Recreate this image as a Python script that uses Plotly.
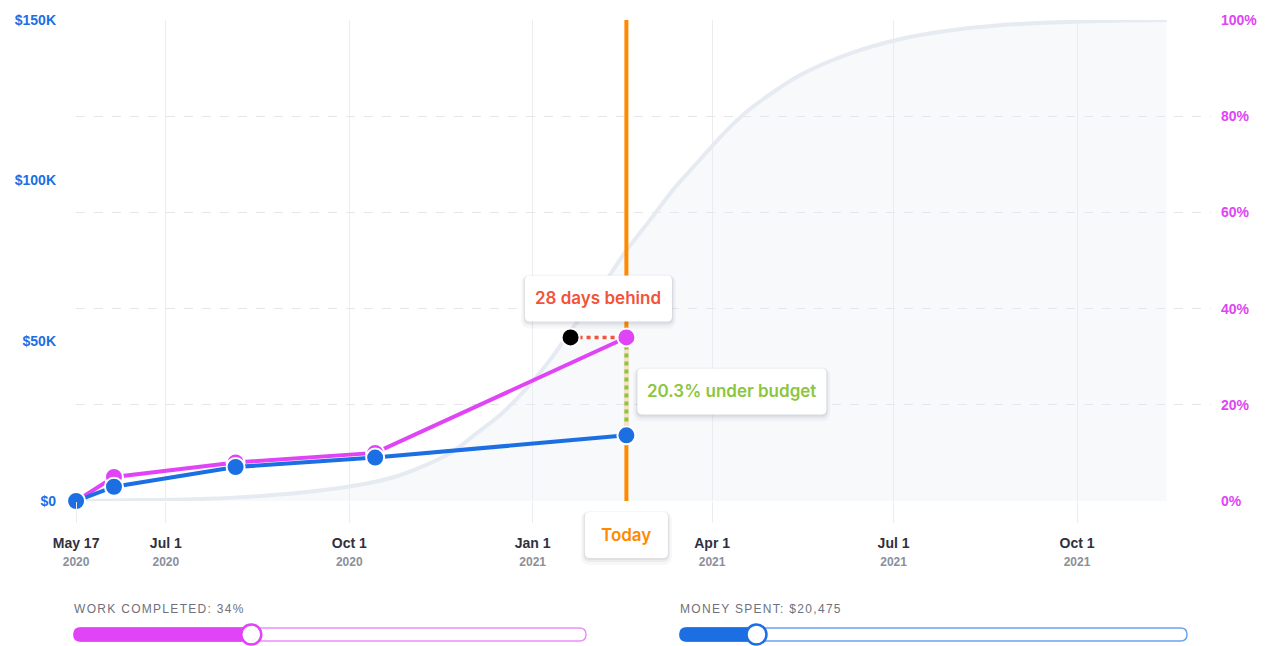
import datetime as dt
import plotly.graph_objects as go

# ---- actual progress at each check-in ----
check_dates = ["2020-05-17", "2020-06-05", "2020-08-05", "2020-10-14", "2021-02-17"]
work_completed_pct = [0, 5, 8, 10, 34]
money_spent = [0, 4450, 10600, 13550, 20475]

# ---- planned (baseline) progress curve ----
plan_dates = ["2020-05-17", "2020-06-23", "2020-07-18", "2020-08-12", "2020-09-06",
              "2020-10-01", "2020-10-14", "2020-10-26", "2020-11-08", "2020-11-21",
              "2020-12-03", "2020-12-16", "2020-12-28", "2021-01-10", "2021-01-22",
              "2021-02-04", "2021-02-16", "2021-03-01", "2021-03-13", "2021-03-26",
              "2021-04-07", "2021-04-20", "2021-05-15", "2021-06-09", "2021-07-04",
              "2021-07-29", "2021-08-23", "2021-10-03", "2021-11-15"]
plan_pct = [0, 0.2, 0.4, 0.9, 1.7,
            3.0, 4.0, 5.3, 7.4, 10.0,
            13.8, 18.0, 23.0, 29.5, 36.5,
            44.0, 51.5, 58.5, 65.0, 71.0,
            76.5, 81.5, 88.5, 93.0, 96.0,
            97.8, 98.9, 99.7, 100]

today = "2021-02-17"
plan_date_for_current_work = "2021-01-20"   # when the plan reached the current % complete
budget_note = "20.3% under budget"

# ---- axes ----
x_range = ["2020-05-16 23:00", "2021-12-07 05:00"]
x_tick_dates = ["2020-05-17", "2020-07-01", "2020-10-01", "2021-01-01",
                "2021-04-01", "2021-07-01", "2021-10-01"]
x_tick_day = ["May 17", "Jul 1", "Oct 1", "Jan 1", "Apr 1", "Jul 1", "Oct 1"]
x_tick_year = ["2020", "2020", "2020", "2021", "2021", "2021", "2021"]

money_range = [0, 150000]
money_ticks = [0, 50000, 100000, 150000]
money_tick_labels = ["$0", "$50K", "$100K", "$150K"]

pct_range = [0, 100]
pct_ticks = [0, 20, 40, 60, 80, 100]
pct_tick_labels = ["0%", "20%", "40%", "60%", "80%", "100%"]

# ---- sliders under the chart ----
work_slider_max = 100
money_slider_max = 150000

MAGENTA = "#e044f6"
MAGENTA_LIGHT = "#ec8ef9"
BLUE = "#1b6fe2"
BLUE_LIGHT = "#6aa3ee"
ORANGE = "#ff8a00"
RED = "#f2533a"
GREEN = "#8cc63e"
PLAN_LINE = "#e6ebf2"
GRID = "#ececef"
TEXT_FONT = "Inter"
AXIS_FONT = "Liberation Sans"

W, H = 1270, 646
M_L, M_R, M_T, M_B = 76, 59, 17, 145


def d(s):
    return dt.date.fromisoformat(s)


def rrect(x0, y0, x1, y1, r):
    """Rounded rectangle path in pixel offsets (y grows upward)."""
    return (f"M{x0 + r},{y0} L{x1 - r},{y0} Q{x1},{y0} {x1},{y0 + r} "
            f"L{x1},{y1 - r} Q{x1},{y1} {x1 - r},{y1} L{x0 + r},{y1} "
            f"Q{x0},{y1} {x0},{y1 - r} L{x0},{y0 + r} Q{x0},{y0} {x0 + r},{y0} Z")


def card(xref, xanchor, yref, yanchor, x0, y0, x1, y1):
    """White label card with a soft drop shadow."""
    out = []
    for grow, drop, alpha in [(4, 3, 0.035), (2, 2, 0.05), (1, 1, 0.06)]:
        out.append(dict(type="path", xref=xref, yref=yref, xsizemode="pixel", ysizemode="pixel",
                        xanchor=xanchor, yanchor=yanchor, layer="above",
                        path=rrect(x0 - grow, y0 - grow - drop, x1 + grow, y1 + grow - drop, 5 + grow),
                        fillcolor=f"rgba(30,40,70,{alpha})", line=dict(width=0)))
    out.append(dict(type="path", xref=xref, yref=yref, xsizemode="pixel", ysizemode="pixel",
                    xanchor=xanchor, yanchor=yanchor, layer="above",
                    path=rrect(x0, y0, x1, y1, 5), fillcolor="white", line=dict(width=0)))
    return out


fig = go.Figure()

# planned curve (percent axis)
fig.add_trace(go.Scatter(
    x=plan_dates, y=plan_pct, yaxis="y", mode="lines",
    line=dict(color=PLAN_LINE, width=4, shape="spline", smoothing=0.8),
    fill="tozeroy", fillcolor="rgba(228,234,242,0.30)", hoverinfo="skip", showlegend=False))

# today marker line
fig.add_trace(go.Scatter(
    x=[today, today], y=pct_range, yaxis="y", mode="lines",
    line=dict(color=ORANGE, width=4), hoverinfo="skip", showlegend=False))

# gap between work completed and money spent on today's line
blue_now_pct = money_spent[-1] / money_range[1] * pct_range[1]
fig.add_trace(go.Scatter(
    x=[today, today], y=[work_completed_pct[-1], blue_now_pct], yaxis="y", mode="lines",
    line=dict(color="#f3e2cc", width=5), hoverinfo="skip", showlegend=False))
fig.add_trace(go.Scatter(
    x=[today, today], y=[work_completed_pct[-1], blue_now_pct], yaxis="y", mode="lines",
    line=dict(color=GREEN, width=4, dash="4px,4px"), hoverinfo="skip", showlegend=False))

# schedule gap: plan date vs today at the current % complete
fig.add_trace(go.Scatter(
    x=[plan_date_for_current_work, today], y=[work_completed_pct[-1]] * 2, yaxis="y",
    mode="lines", line=dict(color=RED, width=3.5, dash="4px,4px"),
    hoverinfo="skip", showlegend=False))

# work completed (percent axis)
fig.add_trace(go.Scatter(
    x=check_dates, y=work_completed_pct, yaxis="y", mode="lines+markers",
    line=dict(color=MAGENTA, width=4),
    marker=dict(size=18, color=MAGENTA, line=dict(color="white", width=2)),
    cliponaxis=False, name="Work completed", showlegend=False))

# planned point matching the current % complete
fig.add_trace(go.Scatter(
    x=[plan_date_for_current_work], y=[work_completed_pct[-1]], yaxis="y", mode="markers",
    marker=dict(size=18, color="black", line=dict(color="white", width=2)),
    cliponaxis=False, showlegend=False))

# money spent (money axis)
fig.add_trace(go.Scatter(
    x=check_dates, y=money_spent, yaxis="y2", mode="lines+markers",
    line=dict(color=BLUE, width=4),
    marker=dict(size=18, color=BLUE, line=dict(color="white", width=2)),
    cliponaxis=False, name="Money spent", showlegend=False))

shapes = []
annotations = []

# "days behind" card centred over the schedule gap
t_today = d(today)
t_plan = d(plan_date_for_current_work)
days_behind = (t_today - t_plan).days
gap_mid = (t_plan + (t_today - t_plan) / 2).isoformat()
shapes += card("x", gap_mid, "y", work_completed_pct[-1], -73.5, 16, 73.5, 62)
annotations.append(dict(x=gap_mid, y=work_completed_pct[-1], xref="x", yref="y",
                        xanchor="center", yanchor="middle",
                        text=f"{days_behind} days behind", showarrow=False, yshift=39,
                        font=dict(family=TEXT_FONT, size=17, color=RED, weight=600)))

# budget card to the right of today's line
shapes += card("x", today, "y", work_completed_pct[-1], 11, -77, 200, -31)
annotations.append(dict(x=today, y=work_completed_pct[-1], xref="x", yref="y",
                        xanchor="center", yanchor="middle",
                        text=budget_note, showarrow=False, xshift=105.5, yshift=-54,
                        font=dict(family=TEXT_FONT, size=17, color=GREEN, weight=600)))

# "Today" card under the axis
shapes += card("x", today, "paper", 0, -41.5, -57, 41.5, -11)
annotations.append(dict(x=today, y=0, xref="x", yref="paper", text="Today",
                        xanchor="center", yanchor="middle",
                        showarrow=False, yshift=-34,
                        font=dict(family=TEXT_FONT, size=17, color=ORANGE, weight=600)))


def slider(left_px, right_px, frac, color, light, label):
    ox, oy = M_L, H - M_B          # plot-area origin in page pixels
    x0, x1 = left_px - ox, right_px - ox
    cy = oy - 634.5
    hh = 6.5
    kr = 10
    kx = x0 + kr + frac * (x1 - x0 - 2 * kr)
    base = dict(xref="paper", yref="paper", xanchor=0, yanchor=0,
                xsizemode="pixel", ysizemode="pixel", layer="above")
    out = [
        dict(type="path", path=rrect(x0, cy - hh, x1, cy + hh, hh),
             fillcolor="white", line=dict(color=light, width=1.5), **base),
        dict(type="path", path=rrect(x0, cy - hh, kx, cy + hh, hh),
             fillcolor=color, line=dict(color=color, width=1.5), **base),
        dict(type="circle", x0=kx - kr, x1=kx + kr, y0=cy - kr, y1=cy + kr,
             fillcolor="white", line=dict(color=color, width=2.5), **base),
    ]
    ann = dict(x=0, y=0, xref="paper", yref="paper", xanchor="left", yanchor="middle",
               xshift=x0 - 2, yshift=oy - 609, showarrow=False,
               text=f"<span style='letter-spacing:1.3px'>{label}</span>",
               font=dict(family="Liberation Sans", size=12, color="#6e717c"))
    return out, ann


s, a = slider(74, 586, work_completed_pct[-1] / work_slider_max, MAGENTA, MAGENTA_LIGHT,
              f"WORK COMPLETED: {work_completed_pct[-1]}%")
shapes += s
annotations.append(a)
s, a = slider(680, 1187, money_spent[-1] / money_slider_max, BLUE, BLUE_LIGHT,
              f"MONEY SPENT: ${money_spent[-1]:,}")
shapes += s
annotations.append(a)

x_tick_text = [f"{dd}<br><span style='font-size:12px;color:#8b8f9a'>{yy}</span>"
               for dd, yy in zip(x_tick_day, x_tick_year)]

fig.update_layout(
    width=W, height=H, autosize=False,
    margin=dict(l=M_L, r=M_R, t=M_T, b=M_B),
    paper_bgcolor="white", plot_bgcolor="white",
    showlegend=False,
    xaxis=dict(type="date", range=x_range, tickmode="array", tickvals=x_tick_dates,
               ticktext=x_tick_text, showgrid=True, gridcolor=GRID, gridwidth=1,
               ticks="outside", ticklen=21, tickwidth=1, tickcolor=GRID,
               showline=False, zeroline=False, ticklabelstandoff=8,
               tickfont=dict(family=AXIS_FONT, size=14, color="#2f3140", weight="bold")),
    yaxis=dict(side="right", range=pct_range, tickmode="array", tickvals=pct_ticks,
               ticktext=pct_tick_labels, showgrid=True, gridcolor="#e6e6ea", gridwidth=1,
               griddash="dash", zeroline=False, showline=False, ticks="",
               ticklabelstandoff=9,
               tickfont=dict(family=AXIS_FONT, size=14, color=MAGENTA, weight="bold")),
    yaxis2=dict(side="left", overlaying="y", range=money_range, tickmode="array",
                tickvals=money_ticks, ticktext=money_tick_labels, showgrid=False,
                zeroline=False, showline=False, ticks="", ticklabelstandoff=19,
                tickfont=dict(family=AXIS_FONT, size=14, color=BLUE, weight="bold")),
    shapes=shapes,
    annotations=annotations,
    hovermode=False,
)

fig.write_html("out.html", config={"displayModeBar": False})
